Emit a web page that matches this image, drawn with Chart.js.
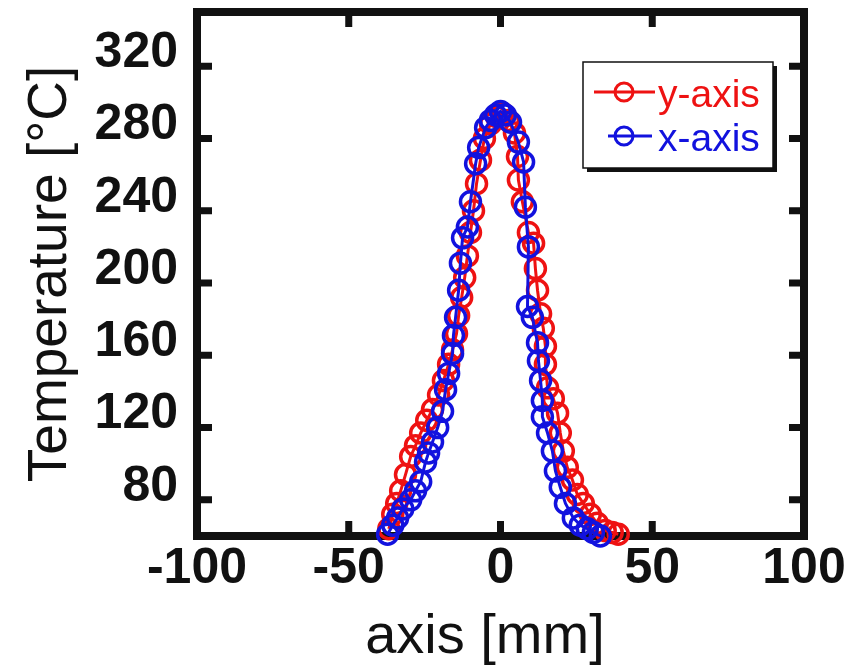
<!DOCTYPE html>
<html lang="en">
<head>
  <meta charset="UTF-8">
  <title>Temperature profile</title>
  <script src="https://cdn.jsdelivr.net/npm/chart.js"></script>
  <style>
    html, body { margin: 0; padding: 0; background: #fff; }
    #wrap { width: 856px; height: 666px; }
  </style>
</head>
<body>
  <div id="wrap"><canvas id="perfil" width="856" height="666"></canvas></div>

  <script>
    // series names and colours
    const seriesNames = ['y-axis', 'x-axis'];
    const seriesColors = ['#ee1212', '#1212de'];

    // profile along the y axis: position [mm] / temperature [°C]
    const yAxisPos = [-36.8, -35.5, -34.2, -32.9, -31.3, -29.6, -28.0, -26.3, -24.3, -22.4,
      -20.4, -18.8, -17.1, -15.8, -14.5, -13.8, -12.8, -11.8, -10.9, -9.9,
      -8.9, -7.9, -6.6, -5.3, -3.3, -1.3, 0.7, 2.6, 4.6, 5.6,
      5.9, 7.2, 9.2, 10.9, 11.5, 12.2, 13.2, 14.1, 14.8, 14.8,
      15.5, 17.4, 18.8, 19.7, 20.7, 22.0, 23.7, 25.3, 27.3, 29.6,
      31.9, 34.5, 36.8, 38.8];
    const yAxisTemp = [64, 72, 78, 85, 94, 104, 110, 117, 124, 130,
      138, 146, 155, 163, 172, 182, 192, 203, 215, 228,
      240, 255, 268, 280, 288, 292, 294, 290, 283, 270,
      257, 245, 228, 222, 208, 196, 183, 175, 165, 155,
      142, 136, 128, 117, 107, 98, 91, 83, 78, 72,
      67, 63, 62, 61];

    // profile along the x axis
    const xAxisPos = [-37.2, -35.5, -33.9, -32.2, -29.6, -28.0, -26.3, -24.7, -23.7, -22.4,
      -20.7, -19.1, -18.1, -17.1, -15.8, -15.5, -14.8, -13.8, -13.2, -12.5,
      -10.9, -9.9, -8.2, -7.2, -4.9, -3.3, -1.6, 0.0, 1.6, 3.3,
      5.9, 7.6, 8.2, 9.2, 8.9, 10.5, 12.2, 12.5, 13.2, 13.8,
      13.8, 15.5, 17.1, 18.1, 19.7, 21.4, 24.0, 26.3, 28.6, 30.6,
      32.9];
    const xAxisTemp = [61, 66, 70, 75, 80, 85, 90, 101, 106, 112,
      120, 129, 141, 150, 161, 171, 181, 196, 211, 225,
      231, 245, 266, 275, 286, 290, 293, 295, 293, 289,
      278, 267, 242, 220, 187, 181, 167, 157, 146, 135,
      126, 117, 107, 96, 87, 78, 70, 66, 64, 62,
      60];

    const xTicks = [-100, -50, 0, 50, 100];
    const yTicks = [80, 120, 160, 200, 240, 280, 320];
    const xRange = [-100, 100];
    const yRange = [60, 350];

    const fonte = "'Liberation Sans', Arial, Helvetica, sans-serif";
    const preto = '#111';

    function pontos(pos, temp) {
      return pos.map((x, i) => ({ x: x, y: temp[i] }));
    }

    // thick box round the plot with inward ticks on all four sides
    const moldura = {
      id: 'moldura',
      beforeDatasetsDraw(chart) {
        const { ctx, chartArea: a, scales: { x, y } } = chart;
        ctx.save();
        ctx.strokeStyle = preto;
        ctx.lineWidth = 8;
        ctx.strokeRect(a.left, a.top, a.right - a.left, a.bottom - a.top);
        ctx.lineWidth = 7;
        ctx.beginPath();
        x.ticks.forEach(t => {
          const px = x.getPixelForValue(t.value);
          ctx.moveTo(px, a.bottom); ctx.lineTo(px, a.bottom - 15);
          ctx.moveTo(px, a.top); ctx.lineTo(px, a.top + 15);
        });
        y.ticks.forEach(t => {
          const py = y.getPixelForValue(t.value);
          ctx.moveTo(a.left, py); ctx.lineTo(a.left + 15, py);
          ctx.moveTo(a.right, py); ctx.lineTo(a.right - 15, py);
        });
        ctx.stroke();
        ctx.restore();
      }
    };

    // legend box in the upper right corner, line + circle + coloured text
    const legenda = {
      id: 'legenda',
      afterDatasetsDraw(chart) {
        const { ctx, chartArea: a } = chart;
        const w = 190, h = 106;
        const left = a.right - 221, top = a.top + 50;
        ctx.save();
        ctx.fillStyle = preto;
        ctx.fillRect(left + 4, top + 4, w, h);
        ctx.fillStyle = '#fff';
        ctx.fillRect(left, top, w, h);
        ctx.strokeStyle = preto;
        ctx.lineWidth = 1.5;
        ctx.strokeRect(left, top, w, h);

        const linhas = [
          { y: top + 30, x0: left + 11, x1: left + 72 },
          { y: top + 74, x0: left + 25, x1: left + 69 }
        ];
        ctx.font = '39px ' + fonte;
        ctx.textBaseline = 'alphabetic';
        seriesNames.forEach((nome, i) => {
          const l = linhas[i];
          ctx.strokeStyle = seriesColors[i];
          ctx.lineWidth = 3;
          ctx.beginPath();
          ctx.moveTo(l.x0, l.y); ctx.lineTo(l.x1, l.y);
          ctx.stroke();
          ctx.beginPath();
          ctx.arc(left + 41, l.y, 9, 0, Math.PI * 2);
          ctx.stroke();
          ctx.fillStyle = seriesColors[i];
          ctx.fillText(nome, left + 75, l.y + 15);
        });
        ctx.restore();
      }
    };

    function serie(nome, cor, dados, ordem) {
      return {
        label: nome,
        data: dados,
        showLine: true,
        borderColor: cor,
        borderWidth: 3,
        pointStyle: 'circle',
        pointRadius: 10,
        pointBorderWidth: 3.5,
        pointBorderColor: cor,
        pointBackgroundColor: 'rgba(0,0,0,0)',
        clip: false,
        order: ordem
      };
    }

    new Chart(document.getElementById('perfil'), {
      type: 'scatter',
      data: {
        datasets: [
          serie(seriesNames[0], seriesColors[0], pontos(yAxisPos, yAxisTemp), 2),
          serie(seriesNames[1], seriesColors[1], pontos(xAxisPos, xAxisTemp), 1)
        ]
      },
      options: {
        responsive: false,
        animation: false,
        devicePixelRatio: 1,
        layout: { autoPadding: false, padding: { top: 12, right: 52, left: 0, bottom: 0 } },
        plugins: {
          legend: { display: false },
          tooltip: { enabled: false }
        },
        scales: {
          x: {
            type: 'linear',
            min: xRange[0],
            max: xRange[1],
            afterBuildTicks: s => { s.ticks = xTicks.map(v => ({ value: v })); },
            afterFit: s => { s.height = 130; s.paddingLeft = 0; s.paddingRight = 0; },
            grid: { display: false, drawTicks: false },
            border: { display: false },
            ticks: {
              color: preto,
              font: { family: fonte, size: 50, weight: 'bold' },
              padding: 3,
              autoSkip: false,
              maxRotation: 0
            },
            title: {
              display: true,
              text: 'axis [mm]\u00a0\u00a0',
              color: preto,
              font: { family: fonte, size: 56, lineHeight: 1 },
              padding: { top: 0, bottom: 0 }
            }
          },
          y: {
            type: 'linear',
            min: yRange[0],
            max: yRange[1],
            afterBuildTicks: s => { s.ticks = yTicks.map(v => ({ value: v })); },
            afterFit: s => { s.width = 197; s.paddingTop = 0; s.paddingBottom = 0; },
            grid: { display: false, drawTicks: false },
            border: { display: false },
            ticks: {
              color: preto,
              font: { family: fonte, size: 50, weight: 'bold' },
              padding: 19,
              labelOffset: -13,
              autoSkip: false
            },
            title: {
              display: true,
              text: 'Temperature [°C]',
              color: preto,
              font: { family: fonte, size: 55, lineHeight: 1 },
              padding: { top: 23, bottom: 0 }
            }
          }
        }
      },
      plugins: [moldura, legenda]
    });
  </script>
</body>
</html>
